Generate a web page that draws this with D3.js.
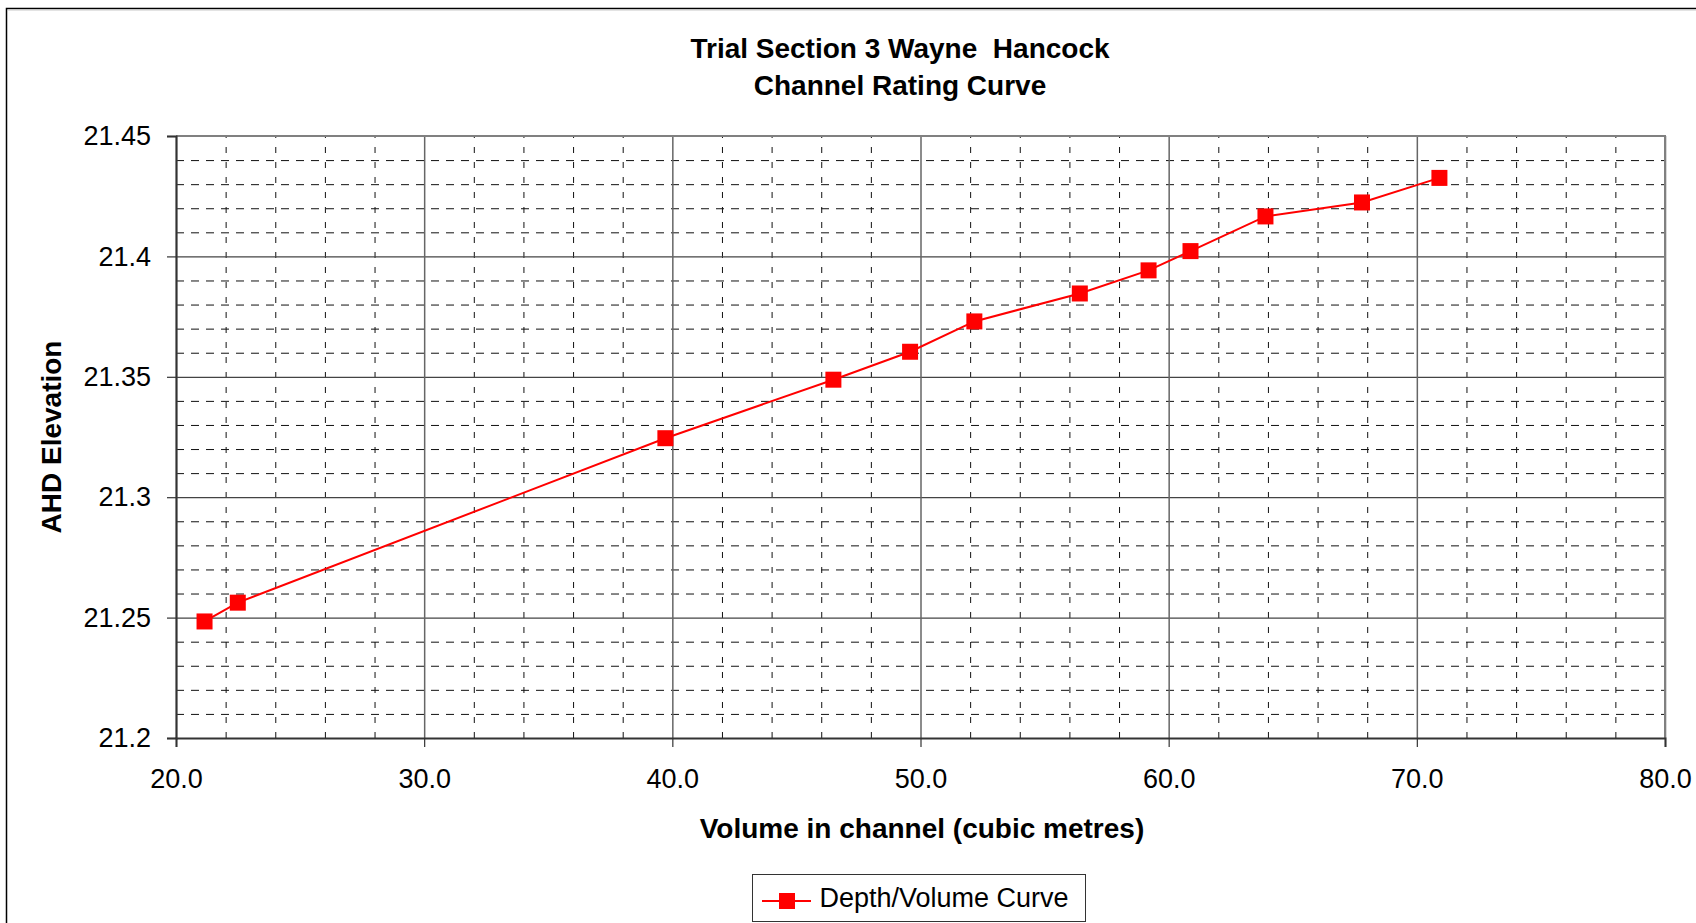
<!DOCTYPE html>
<html>
<head>
<meta charset="utf-8">
<script src="https://cdn.jsdelivr.net/npm/d3@7"></script>
<style>
  body { margin: 0; background: #fff; }
  svg { display: block; font-family: 'Liberation Sans', Arial, sans-serif; }
  text { white-space: pre; }
</style>
</head>
<body>
<svg id="chart" width="1696" height="923"></svg>
<script>

// values
const volume    = [21.15, 22.49, 39.72, 46.49, 49.58, 52.17, 56.42, 59.19, 60.88, 63.90, 67.79, 70.91]
const elevation = [21.2484, 21.2562, 21.3245, 21.3488, 21.3604, 21.3730, 21.3846, 21.3942, 21.4022, 21.4166, 21.4224, 21.4326]

const xTicks  = [20, 30, 40, 50, 60, 70, 80]
const xLabels = ['20.0', '30.0', '40.0', '50.0', '60.0', '70.0', '80.0']
const xMinor  = [22, 24, 26, 28, 32, 34, 36, 38, 42, 44, 46, 48, 52, 54, 56, 58, 62, 64, 66, 68, 72, 74, 76, 78]

const yTicks  = [21.2, 21.25, 21.3, 21.35, 21.4, 21.45]
const yLabels = ['21.2', '21.25', '21.3', '21.35', '21.4', '21.45']
const yMinor  = [21.21, 21.22, 21.23, 21.24, 21.26, 21.27, 21.28, 21.29, 21.31, 21.32, 21.33, 21.34,
                 21.36, 21.37, 21.38, 21.39, 21.41, 21.42, 21.43, 21.44]

const titleLines = ['Trial Section 3 Wayne  Hancock', 'Channel Rating Curve']
const xTitle = 'Volume in channel (cubic metres)'
const yTitle = 'AHD Elevation'
const seriesName = 'Depth/Volume Curve'

const svg = d3.select('#chart')

const plotLeft = 176, plotRight = 1665, plotTop = 136, plotBottom = 738
const width = plotRight - plotLeft
const height = plotBottom - plotTop

const x = d3.scaleLinear().domain([20, 80]).range([plotLeft, plotRight])
const y = d3.scaleLinear().domain([21.2, 21.45]).range([plotBottom, plotTop])

// outer chart frame (runs off the right and bottom edges)
svg.append('rect').attr('x', 6.5).attr('y', 8.5).attr('width', 1800).attr('height', 1000)
    .attr('fill', '#fff').attr('stroke', '#000').attr('stroke-width', 1.5)
svg.append('line').attr('x1', 8).attr('x2', 1696).attr('y1', 10).attr('y2', 10)
    .attr('stroke', '#c8c8c8').attr('stroke-width', 1)

// minor grid, dashed
svg.append('g').attr('class', 'ygridMinor')
    .attr('transform', `translate(${plotLeft},0)`)
    .call(d3.axisLeft(y).tickValues(yMinor).tickSize(-width).tickFormat(''))
svg.append('g').attr('class', 'xgridMinor')
    .attr('transform', `translate(0,${plotBottom})`)
    .call(d3.axisBottom(x).tickValues(xMinor).tickSize(-height).tickFormat(''))

svg.selectAll('.ygridMinor .tick line').attr('stroke', '#111').attr('stroke-width', 1).attr('stroke-dasharray', '8,7')
svg.selectAll('.xgridMinor .tick line').attr('stroke', '#111').attr('stroke-width', 1).attr('stroke-dasharray', '6,9')

// major grid, solid
svg.append('g').attr('class', 'ygrid')
    .attr('transform', `translate(${plotLeft},0)`)
    .call(d3.axisLeft(y).tickValues(yTicks).tickSize(-width).tickFormat(''))
svg.append('g').attr('class', 'xgrid')
    .attr('transform', `translate(0,${plotBottom})`)
    .call(d3.axisBottom(x).tickValues(xTicks).tickSize(-height).tickFormat(''))

svg.selectAll('.ygrid .tick line').attr('stroke', '#444').attr('stroke-width', 1.2)
svg.selectAll('.xgrid .tick line').attr('stroke', '#666').attr('stroke-width', 1.5)
svg.selectAll('.ygridMinor .domain, .xgridMinor .domain, .ygrid .domain, .xgrid .domain').remove()

// plot frame: grey on top and right
svg.append('path')
    .attr('d', `M${plotLeft},${plotTop}H${plotRight}V${plotBottom}`)
    .attr('fill', 'none').attr('stroke', '#808080').attr('stroke-width', 2)

// axes
const yaxis = d3.axisLeft(y).tickValues(yTicks).tickSize(9).tickPadding(16)
    .tickFormat((d, i) => yLabels[i])
const xaxis = d3.axisBottom(x).tickValues(xTicks).tickSize(9).tickPadding(22)
    .tickFormat((d, i) => xLabels[i])

svg.append('g').attr('class', 'yaxis').attr('transform', `translate(${plotLeft},0)`).call(yaxis)
svg.append('g').attr('class', 'xaxis').attr('transform', `translate(0,${plotBottom})`).call(xaxis)

svg.selectAll('.yaxis .domain, .xaxis .domain').attr('stroke', '#333').attr('stroke-width', 2)
svg.selectAll('.yaxis .tick line, .xaxis .tick line').attr('stroke', '#333').attr('stroke-width', 1.2)
svg.selectAll('.yaxis text, .xaxis text')
    .attr('font-family', 'Liberation Sans, Arial, sans-serif')
    .attr('font-size', 27).attr('fill', '#000')

// series
const pts = volume.map((v, i) => ({ v: v, e: elevation[i] }))
const line = d3.line().x(d => x(d.v)).y(d => y(d.e))

svg.append('path').datum(pts)
    .attr('d', line)
    .attr('fill', 'none').attr('stroke', '#ff0000').attr('stroke-width', 2)

svg.append('g').attr('id', 'nodes').selectAll('rect').data(pts).enter()
    .append('rect')
    .attr('x', d => x(d.v) - 8)
    .attr('y', d => y(d.e) - 8)
    .attr('width', 16).attr('height', 16)
    .attr('fill', '#ff0000')

// titles
svg.append('g').selectAll('text').data(titleLines).enter()
    .append('text')
    .attr('x', 900).attr('y', (d, i) => 57.5 + i * 37)
    .attr('text-anchor', 'middle')
    .attr('font-size', 28).attr('font-weight', 'bold')
    .text(d => d)

svg.append('text')
    .attr('x', 922).attr('y', 837.5)
    .attr('text-anchor', 'middle')
    .attr('font-size', 28).attr('font-weight', 'bold')
    .text(xTitle)

svg.append('text')
    .attr('transform', 'translate(60.5,437) rotate(-90)')
    .attr('text-anchor', 'middle')
    .attr('font-size', 28).attr('font-weight', 'bold')
    .text(yTitle)

// legend
const legend = svg.append('g').attr('class', 'legend')
legend.append('rect').attr('x', 752.5).attr('y', 874.5).attr('width', 333).attr('height', 47)
    .attr('fill', '#fff').attr('stroke', '#333').attr('stroke-width', 1)
legend.append('line').attr('x1', 762).attr('x2', 811).attr('y1', 901).attr('y2', 901)
    .attr('stroke', '#ff0000').attr('stroke-width', 2)
legend.append('rect').attr('x', 779).attr('y', 893).attr('width', 16).attr('height', 16)
    .attr('fill', '#ff0000')
legend.append('text').attr('x', 819.5).attr('y', 907.3)
    .attr('font-size', 27)
    .text(seriesName)

</script>
</body>
</html>
